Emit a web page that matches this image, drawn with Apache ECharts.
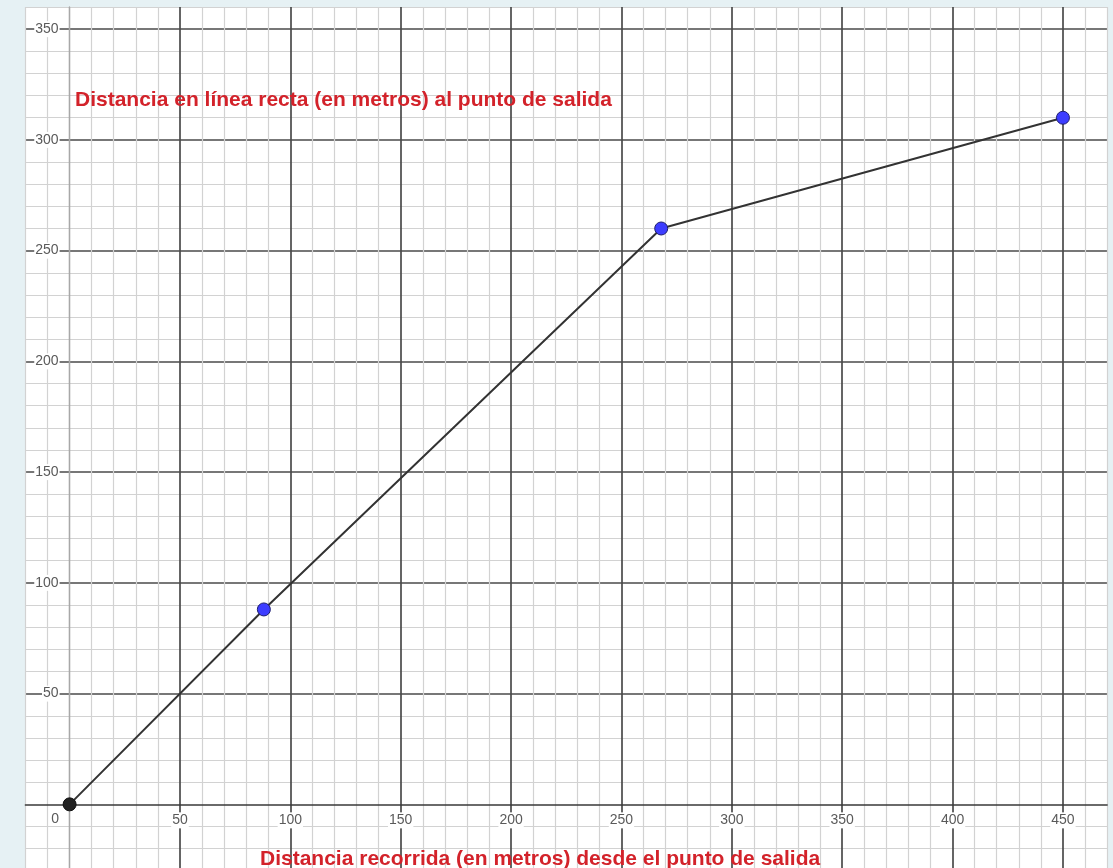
<!DOCTYPE html>
<html>
<head>
<meta charset="utf-8">
<script src="https://cdn.jsdelivr.net/npm/echarts@6/dist/echarts.min.js"></script>
<style>
html,body{margin:0;padding:0;background:#e6f1f4;}
#c{width:1113px;height:868px;}
</style>
</head>
<body>
<div id="c"></div>
<script>
// Data
const distRecorrida = [0, 88, 268, 450];
const distRecta = [0, 88, 260, 310];
const xLabelValues = [0, 50, 100, 150, 200, 250, 300, 350, 400, 450];
const yLabelValues = [50, 100, 150, 200, 250, 300, 350];
const titleY = 'Distancia en línea recta (en metros) al punto de salida';
const titleX = 'Distancia recorrida (en metros) desde el punto de salida';

const X_MIN = -20, X_MAX = 470, Y_MIN = -30, Y_MAX = 360, STEP = 10;
const GRID = {left: 25.45, right: 5.9, top: 7, bottom: -2.8};
const W = 1113, H = 868;
// pixel scale derived from grid layout (used only to move whole axes onto the zero lines)
const xPx = (W - GRID.left - GRID.right) / (X_MAX - X_MIN);
const yPx = (H - GRID.top - GRID.bottom) / (Y_MAX - Y_MIN);
const yAxisOffset = -(0 - X_MIN) * xPx;
const xAxisOffset = -(0 - Y_MIN) * yPx;

function colorCycle(min, max, fn) {
  const arr = [];
  for (let v = min; v <= max + 1e-9; v += STEP) arr.push(fn(Math.round(v)));
  return arr;
}
const MINOR = '#d2d2d2', MAJOR = '#4a4a4a', NONE = 'rgba(0,0,0,0)';

const xMinorColors = colorCycle(X_MIN, X_MAX, v => (v % 50 === 0 && v !== 0) ? NONE : (v === 0 ? '#a8a8a8' : MINOR));
const xMajorColors = colorCycle(X_MIN, X_MAX, v => (v % 50 === 0 && v !== 0) ? MAJOR : NONE);
const yMinorColors = colorCycle(Y_MIN, Y_MAX, v => (v % 50 === 0) ? NONE : MINOR);
const yMajorColors = colorCycle(Y_MIN, Y_MAX, v => (v % 50 === 0 && v !== 0) ? MAJOR : NONE);

const labelFont = {fontFamily: 'Liberation Sans, Arial, sans-serif', fontSize: 14, color: '#5a5a5a'};
const titleFont = {color: '#d3222a', fontSize: 21, fontWeight: 'bold', fontFamily: 'Liberation Sans, Arial, sans-serif'};

const seriesData = distRecorrida.map((x, i) => {
  const d = {value: [x, distRecta[i]]};
  if (i === 0) d.itemStyle = {color: '#222', borderColor: '#111'};
  return d;
});

const chart = echarts.init(document.getElementById('c'), null, {renderer: 'canvas'});
chart.setOption({
  animation: false,
  backgroundColor: '#e6f1f4',
  grid: Object.assign({show: true, backgroundColor: '#ffffff', borderWidth: 0,
         containLabel: false, outerBoundsMode: 'none'}, GRID),
  title: [
    {text: titleY, left: 70, top: 85, textStyle: titleFont},
    {text: titleX, left: 255, top: 844, textStyle: titleFont}
  ],
  xAxis: [
    {
      type: 'value', min: X_MIN, max: X_MAX, interval: STEP, position: 'bottom', offset: xAxisOffset,
      axisLine: {onZero: false, lineStyle: {color: '#3a3a3a', width: 1.6}},
      axisTick: {show: false},
      splitLine: {show: true, showMinLine: true, showMaxLine: true, lineStyle: {color: xMinorColors, width: 1.2}},
      axisLabel: {
        show: true, margin: 8,
        formatter: v => {
          if (v === 0) return '{o|0}';
          return xLabelValues.indexOf(v) >= 0 ? '{n|' + v + '}' : '';
        },
        rich: {
          n: Object.assign({backgroundColor: '#fff', padding: [1, 1]}, labelFont),
          o: Object.assign({padding: [0, 29, 0, 0]}, labelFont)
        }
      }
    },
    {
      type: 'value', min: X_MIN, max: X_MAX, interval: STEP, position: 'top',
      axisLine: {show: false, onZero: false}, axisTick: {show: false}, axisLabel: {show: false},
      splitLine: {show: true, showMinLine: true, showMaxLine: true, lineStyle: {color: xMajorColors, width: 1.7}}
    }
  ],
  yAxis: [
    {
      type: 'value', min: Y_MIN, max: Y_MAX, interval: STEP, position: 'left', offset: yAxisOffset,
      axisLine: {onZero: false, lineStyle: {color: '#a8a8a8', width: 1.4}},
      axisTick: {show: false},
      splitLine: {show: true, showMinLine: true, showMaxLine: true, lineStyle: {color: yMinorColors, width: 1.2}},
      axisLabel: {
        show: true, margin: 10,
        formatter: v => yLabelValues.indexOf(v) >= 0 ? '{n|' + v + '}' : '',
        rich: {n: Object.assign({backgroundColor: '#fff', padding: [1, 1]}, labelFont)}
      }
    },
    {
      type: 'value', min: Y_MIN, max: Y_MAX, interval: STEP, position: 'right',
      axisLine: {show: false, onZero: false}, axisTick: {show: false}, axisLabel: {show: false},
      splitLine: {show: true, showMinLine: true, showMaxLine: true, lineStyle: {color: yMajorColors, width: 1.7}}
    }
  ],
  series: [{
    type: 'line', xAxisIndex: 0, yAxisIndex: 0,
    data: seriesData,
    lineStyle: {color: '#333', width: 2},
    symbol: 'circle', symbolSize: 13,
    itemStyle: {color: '#3d3dff', borderColor: '#1e1e70', borderWidth: 1},
    z: 10
  }]
});
</script>
</body>
</html>
